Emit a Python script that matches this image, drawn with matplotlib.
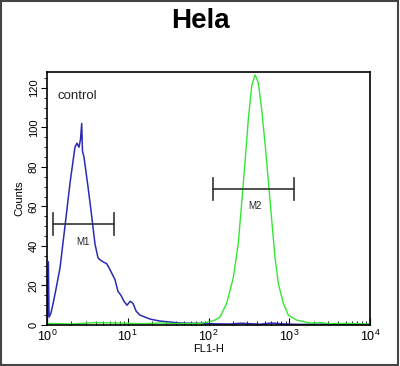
import matplotlib
matplotlib.use("Agg")
import matplotlib.pyplot as plt
from matplotlib.ticker import MultipleLocator, LogLocator, NullFormatter
from matplotlib.patches import Rectangle

plt.rcParams['font.family'] = ['Liberation Sans', 'DejaVu Sans']

# control (blue) histogram, FL1-H vs counts
ctrl_x = [1.0, 1.01, 1.04, 1.06, 1.12, 1.20, 1.29, 1.45, 1.67, 1.93, 2.22, 2.35, 2.49,
          2.60, 2.69, 2.75, 2.87, 3.22, 3.58, 3.93, 4.28, 4.53, 4.94, 5.49, 5.86, 6.38,
          6.95, 7.57, 8.25, 8.99, 9.79, 10.7, 11.6, 12.7, 14.2, 16.4, 18.9, 21.7, 25.1,
          33.4, 44.4, 78.5, 120, 185, 250, 434, 600, 900, 1360, 3000, 10000]
ctrl_y = [0, 2, 32, 4, 6, 11.6, 18, 29, 50, 72, 90, 92, 90,
          94, 102, 88, 85, 70, 55, 41, 34, 33, 32, 31, 29, 26,
          23, 17, 15, 12, 10, 12, 11, 7, 5, 4, 3, 2.5, 2,
          1.5, 1, 0.8, 0.6, 0.5, 0.9, 0.4, 1.0, 0.5, 0.3, 0.4, 0.3]

# sample (green) histogram
samp_x = [1.0, 2.0, 4.0, 8.0, 15, 25, 40, 78.5, 104, 120, 139, 168, 203, 234, 258,
          283, 311, 343, 361, 377, 393, 414, 456, 501, 551, 607, 667, 733, 845,
          973, 1236, 1807, 2500, 3198, 5000, 10000]
samp_y = [0.8, 0.5, 1.2, 1.0, 0.6, 1.0, 0.7, 0.8, 1.7, 2.5, 4, 11, 24, 41.5, 62,
          82, 104, 121, 124, 126.6, 125, 122.5, 109, 92, 73, 53, 34, 21, 11,
          5, 2.5, 1, 1.2, 0.6, 0.8, 0.5]

# gate markers: (low, high, level, label, label_x, label_y)
m1 = (1.18, 6.76, 51, 'M1', 2.77, 42)
m2 = (113, 1145, 69, 'M2', 377, 60)

fig = plt.figure(figsize=(4.0, 3.66), dpi=100)
ax = fig.add_axes([0.1175, 0.112, 0.8075, 0.691])

ax.plot(ctrl_x, ctrl_y, color='#2a2ab4', lw=1.1)
ax.plot(samp_x, samp_y, color='#33e633', lw=1.0)

for lo, hi, lvl, name, lx, ly in (m1, m2):
    ax.plot([lo, hi], [lvl, lvl], color='#333333', lw=1.2)
    ax.plot([lo, lo], [lvl - 5.5, lvl + 5.5], color='#333333', lw=1.2)
    ax.plot([hi, hi], [lvl - 5.5, lvl + 5.5], color='#333333', lw=1.2)
    ax.text(lx, ly, name, fontsize=7, ha='center', va='center', color='#222222')

ax.text(1.33, 116, 'control', fontsize=9.5, ha='left', va='center', color='#222222')

ax.set_xscale('log')
ax.set_xlim(1, 10000)
ax.set_ylim(0, 128)
ax.xaxis.set_major_locator(LogLocator(base=10))
ax.xaxis.set_minor_locator(LogLocator(base=10, subs=range(2, 10)))
ax.xaxis.set_minor_formatter(NullFormatter())
ax.yaxis.set_major_locator(MultipleLocator(20))
ax.yaxis.set_minor_locator(MultipleLocator(5))

ax.tick_params(axis='x', which='major', direction='in', length=5, labelsize=9, pad=3)
ax.tick_params(axis='x', which='minor', direction='in', length=3)
ax.tick_params(axis='y', which='major', direction='out', length=4, labelsize=8, pad=2)
ax.tick_params(axis='y', which='minor', direction='out', length=2)
for lab in ax.get_yticklabels():
    lab.set_rotation(90)
    lab.set_va('center')

for s in ax.spines.values():
    s.set_linewidth(1.2)

ax.set_xlabel('FL1-H', fontsize=8, labelpad=0)
ax.set_ylabel('Counts', fontsize=8, labelpad=3)
fig.text(0.5, 0.943, 'Hela', fontsize=20, fontweight='bold', ha='center', va='center')

fig.patches.append(Rectangle((0.003, 0.002), 0.992, 0.996, transform=fig.transFigure,
                             fill=False, edgecolor='#444444', lw=1.5))

fig.savefig('out.png', dpi=100)
